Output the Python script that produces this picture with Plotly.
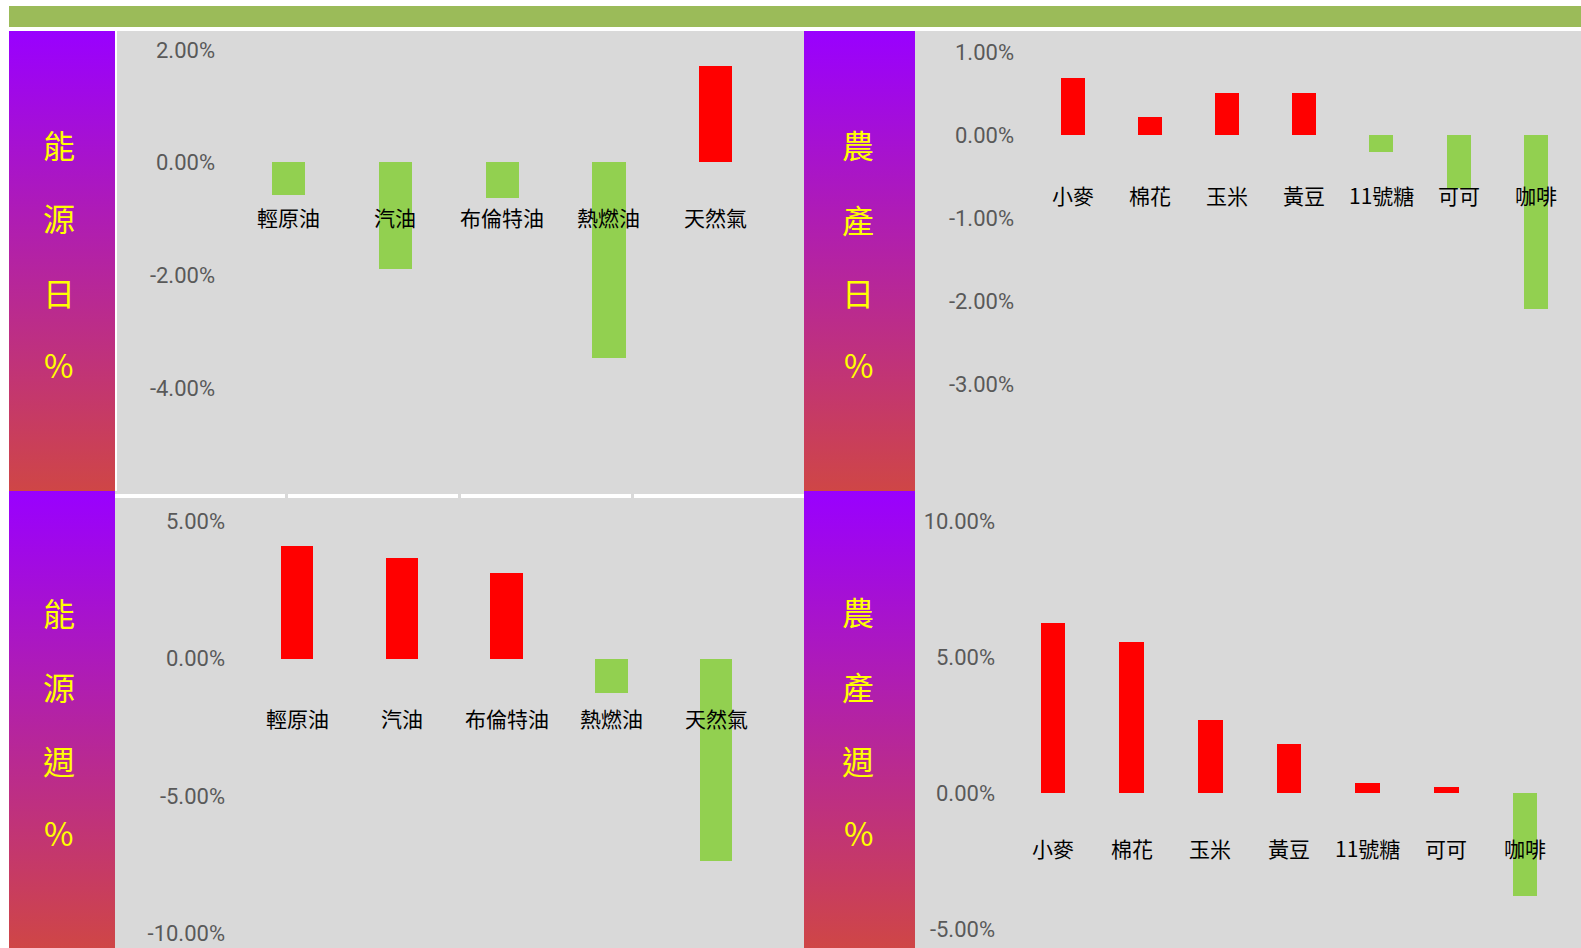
import plotly.graph_objects as go

W, H = 1581, 948

# ---------------- data ----------------
energy_cats = ["輕原油", "汽油", "布倫特油", "熱燃油", "天然氣"]
agri_cats = ["小麥", "棉花", "玉米", "黃豆", "11號糖", "可可", "咖啡"]

energy_day = [-0.58, -1.89, -0.63, -3.47, 1.71]
agri_day = [0.69, 0.22, 0.51, 0.51, -0.20, -0.64, -2.10]
energy_week = [4.11, 3.68, 3.13, -1.24, -7.38]
agri_week = [6.27, 5.57, 2.70, 1.82, 0.39, 0.24, -3.75]

ticks_energy_day = [-4, -2, 0, 2]
ticks_agri_day = [-3, -2, -1, 0, 1]
ticks_energy_week = [-10, -5, 0, 5]
ticks_agri_week = [-5, 0, 5, 10]

titles = ["能源日%", "農產日%", "能源週%", "農產週%"]

# ---------------- styles ----------------
RED = "#FF0000"
GREEN = "#92D050"
GREY = "#D9D9D9"
HEADER = "#9BBB59"
GRAD_TOP = "rgb(153,0,255)"
GRAD_BOT = "rgb(207,70,70)"
TICK_FONT = dict(family="Roboto, Liberation Sans, sans-serif", size=22, color="#595959")
CAT_FONT = dict(family="Noto Sans CJK TC, sans-serif", size=21, color="black")
TITLE_FONT = dict(family="Noto Sans CJK TC, sans-serif", size=32, color="#FFFF00")


def fx(x):
    return x / W


def fy(y):
    return 1 - y / H


panels = [
    dict(cats=energy_cats, vals=energy_day, ticks=ticks_energy_day, title=titles[0],
         grad=(9, 115), plot=(115, 804), ys=(31, 491), xr=[-1.627, 4.827], yr=[-5.832, 2.334],
         lab_right=212, cat_shift=-55, title_x=59, title_y=[144, 217, 292, 364]),
    dict(cats=agri_cats, vals=agri_day, ticks=ticks_agri_day, title=titles[1],
         grad=(804, 915), plot=(915, 1581), ys=(31, 491), xr=[-2.045, 6.586], yr=[-4.289, 1.253],
         lab_right=1011, cat_shift=-60, title_x=858, title_y=[144, 219, 292, 364]),
    dict(cats=energy_cats, vals=energy_week, ticks=ticks_energy_week, title=titles[2],
         grad=(9, 115), plot=(115, 804), ys=(491, 948), xr=[-1.738, 4.839], yr=[-10.54, 6.103],
         lab_right=222, cat_shift=-59, title_x=59, title_y=[612, 686, 760, 832]),
    dict(cats=agri_cats, vals=agri_week, ticks=ticks_agri_week, title=titles[3],
         grad=(804, 915), plot=(915, 1581), ys=(491, 948), xr=[-1.754, 6.712], yr=[-5.68, 11.12],
         lab_right=992, cat_shift=-55, title_x=858, title_y=[611, 686, 760, 832]),
]

fig = go.Figure()
layout = dict(
    width=W, height=H,
    margin=dict(l=0, r=0, t=0, b=0),
    paper_bgcolor="white",
    plot_bgcolor="rgba(0,0,0,0)",
    showlegend=False,
    bargap=0,
)
shapes = []
annotations = []

# grey background
shapes.append(dict(type="rect", xref="paper", yref="paper", x0=fx(9), x1=1, y0=0, y1=fy(31),
                   fillcolor=GREY, line=dict(width=0), layer="below"))
# header bar
shapes.append(dict(type="rect", xref="paper", yref="paper", x0=fx(9), x1=1, y0=fy(27), y1=fy(6),
                   fillcolor=HEADER, line=dict(width=0), layer="above"))

for i, p in enumerate(panels):
    n = i + 1
    g = n + 4
    xa = "x" if n == 1 else f"x{n}"
    ya = "y" if n == 1 else f"y{n}"
    xkey = "xaxis" if n == 1 else f"xaxis{n}"
    ykey = "yaxis" if n == 1 else f"yaxis{n}"
    ydom = [fy(p["ys"][1]), fy(p["ys"][0])]

    layout[xkey] = dict(domain=[fx(p["plot"][0]), fx(p["plot"][1])], anchor=ya, type="category",
                        range=p["xr"], showticklabels=False, showgrid=False, zeroline=False,
                        showline=False, ticks="", fixedrange=True)
    layout[ykey] = dict(domain=ydom, anchor="free", position=fx(p["lab_right"] + 3),
                        range=p["yr"], tickvals=p["ticks"],
                        ticktext=[f"{v:.2f}%" for v in p["ticks"]],
                        tickfont=TICK_FONT, showgrid=False, zeroline=False, showline=False,
                        ticks="", fixedrange=True)

    colors = [RED if v >= 0 else GREEN for v in p["vals"]]
    fig.add_trace(go.Bar(x=p["cats"], y=p["vals"], marker=dict(color=colors, line=dict(width=0)),
                         width=0.31, xaxis=xa, yaxis=ya, hoverinfo="skip"))

    for c in p["cats"]:
        annotations.append(dict(x=c, y=0, xref=xa, yref=ya, text=c, showarrow=False,
                                yshift=p["cat_shift"], font=CAT_FONT, yanchor="middle"))

    # gradient label panel
    layout[f"xaxis{g}"] = dict(domain=[fx(p["grad"][0]), fx(p["grad"][1])], anchor=f"y{g}",
                               range=[0, 1], visible=False, fixedrange=True)
    layout[f"yaxis{g}"] = dict(domain=ydom, anchor=f"x{g}", range=[0, 1], visible=False,
                               fixedrange=True)
    fig.add_trace(go.Scatter(x=[0, 1, 1, 0, 0], y=[0, 0, 1, 1, 0], fill="toself", mode="none",
                             fillgradient=dict(type="vertical",
                                               colorscale=[[0, GRAD_BOT], [1, GRAD_TOP]]),
                             xaxis=f"x{g}", yaxis=f"y{g}", hoverinfo="skip"))
    for ch, ty in zip(p["title"], p["title_y"]):
        annotations.append(dict(x=fx(p["title_x"]), y=fy(ty), xref="paper", yref="paper",
                                text=ch, showarrow=False, font=TITLE_FONT,
                                xanchor="center", yanchor="middle"))

# white separator lines (chart frame remnants)
shapes.append(dict(type="rect", xref="paper", yref="paper", x0=fx(115), x1=fx(117),
                   y0=fy(491), y1=fy(31), fillcolor="white", line=dict(width=0), layer="above"))
shapes.append(dict(type="rect", xref="paper", yref="paper", x0=fx(115), x1=fx(804),
                   y0=fy(498), y1=fy(494), fillcolor="white", line=dict(width=0), layer="above"))
for gx in [285, 458, 631]:
    shapes.append(dict(type="rect", xref="paper", yref="paper", x0=fx(gx), x1=fx(gx + 3),
                       y0=fy(498), y1=fy(494), fillcolor=GREY, line=dict(width=0), layer="above"))

layout["shapes"] = shapes
layout["annotations"] = annotations
fig.update_layout(**layout)

fig.write_html("out.html", config={"displayModeBar": False},
               post_script="document.body.style.margin='0';document.body.style.overflow='hidden';")
